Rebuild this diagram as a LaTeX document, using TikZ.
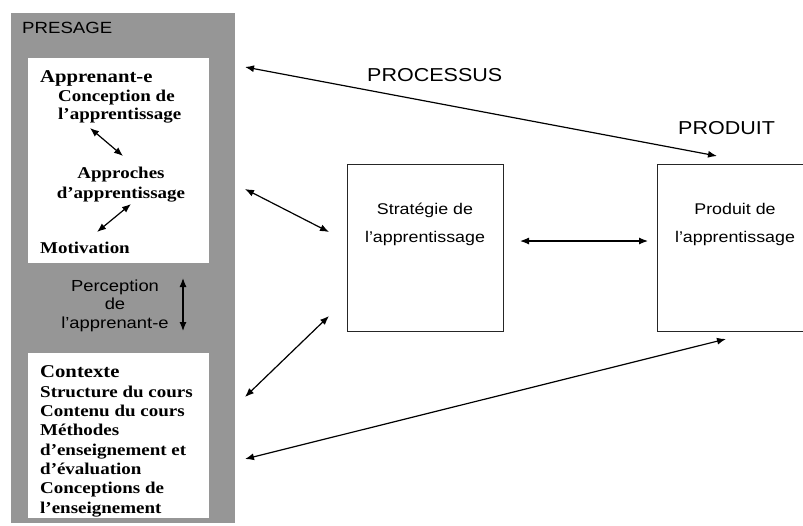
\documentclass[tikz,border=0pt]{standalone}
\usepackage{fontspec}
\usepackage{xcolor}
\usepackage{tikz}
\usetikzlibrary{arrows.meta, positioning}

\newfontfamily\arialfont{Liberation Sans}[FakeStretch=1.15]
\newfontfamily\timesfont{Liberation Serif}[FakeStretch=1.15]
\definecolor{presgray}{RGB}{150,150,150}

\begin{document}
\begin{tikzpicture}[
    x=1pt, y=-1pt,
    panel/.style={fill=presgray, draw=none, inner sep=0pt, anchor=north west},
    inbox/.style={fill=white, draw=none, inner sep=0pt, anchor=north west},
    stagebox/.style={draw=black!85, line width=1.2pt, fill=white, inner sep=0pt, anchor=north west},
    head/.style={font=\arialfont\fontsize{18.7}{22}\selectfont, inner sep=0pt, anchor=base west},
    lbl/.style={font=\arialfont\fontsize{15.5}{28}\selectfont, align=center, inner sep=0pt, anchor=base},
    shead/.style={font=\timesfont\bfseries\fontsize{18}{20}\selectfont, inner sep=0pt, anchor=base west},
    stxt/.style={font=\timesfont\bfseries\fontsize{16.5}{19.3}\selectfont, inner sep=0pt, anchor=base west, align=left},
    arrow/.style={line width=1.2pt, <->, >={Latex[length=9pt,width=7pt]}}
]
\clip (0,0) rectangle (803,525);

% Presage panel
\node[panel, minimum width=224pt, minimum height=510pt] (presage) at (11,13) {};
\node[head, font=\arialfont\fontsize{16.2}{19}\selectfont] (presagelbl) at (22,33) {PRESAGE};
\node[inbox, minimum width=181pt, minimum height=205pt] (learner) at (28,58) {};
\node[inbox, minimum width=181pt, minimum height=165pt] (context) at (28,353) {};

% Learner box (multi-line nodes sit on their last baseline)
\node[shead] (learnerlbl) at (40,82) {Apprenant-e};
\node[stxt, font=\timesfont\bfseries\fontsize{16.5}{18}\selectfont] (concept) at (58,119) {Conception de\\l’apprentissage};
\node[stxt, anchor=base, align=center, font=\timesfont\bfseries\fontsize{16.5}{20}\selectfont] (approach) at (121,198) {Approches\\d’apprentissage};
\node[stxt] (motiv) at (40,253) {Motivation};

% Context box
\node[shead] (contextlbl) at (40,377) {Contexte};
\node[stxt] (contextitems) at (40,513) {Structure du cours\\Contenu du cours\\Méthodes\\d’enseignement et\\d’évaluation\\Conceptions de\\l’enseignement};

% Perception
\node[lbl, font=\arialfont\fontsize{16}{18.5}\selectfont] (percep) at (115,328) {Perception\\de\\l’apprenant-e};

% Process and product
\node[head] (processlbl) at (367,81) {PROCESSUS};
\node[head] (productlbl) at (678,134) {PRODUIT};
\node[stagebox, minimum width=156pt, minimum height=167pt] (strat) at (347,164) {};
\node[stagebox, minimum width=160pt, minimum height=167pt] (prod) at (657,164) {};
\node[lbl] (stratlbl) at (425,242) {Stratégie de\\l’apprentissage};
\node[lbl] (prodlbl) at (735,242) {Produit de\\l’apprentissage};

% Arrow ends
\coordinate (c1a) at (90,128);  \coordinate (c1b) at (123,156);
\coordinate (c2a) at (131,204); \coordinate (c2b) at (97,232);
\coordinate (p1) at (183,278);  \coordinate (p2) at (183,331);
\coordinate (topl) at (245,67); \coordinate (topr) at (717,156);
\coordinate (sl1) at (245,189); \coordinate (sr1) at (329,232);
\coordinate (sl2) at (245,397); \coordinate (sr2) at (329,316);
\coordinate (ml) at (520,241);  \coordinate (mr) at (648,241);
\coordinate (botl) at (245,459); \coordinate (botr) at (726,339);

% Arrows
\draw[arrow] (c1a) -- (c1b);
\draw[arrow] (c2a) -- (c2b);
\draw[arrow] (p1) -- (p2);
\draw[arrow] (topl) -- (topr);
\draw[arrow] (sl1) -- (sr1);
\draw[arrow] (sl2) -- (sr2);
\draw[arrow] (ml) -- (mr);
\draw[arrow] (botl) -- (botr);

\end{tikzpicture}
\end{document}
